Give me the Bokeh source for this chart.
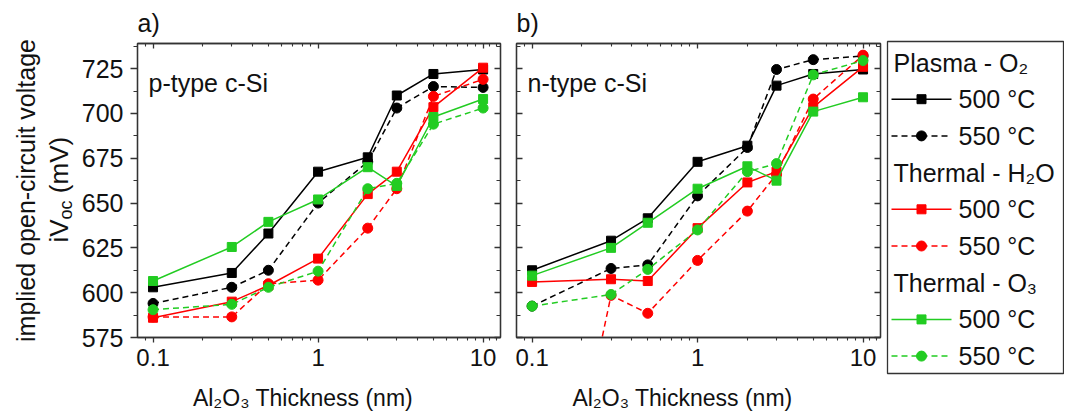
import numpy as np
from bokeh.plotting import figure
from bokeh.layouts import row, column
from bokeh.models import (Range1d, LogAxis, LinearAxis, FixedTicker,
                          CustomJSTickFormatter, Label)
from bokeh.embed import file_html
from bokeh.resources import INLINE
from bokeh.core.properties import value

# ---------------- data ----------------
thickness = [0.1, 0.3, 0.5, 1, 2, 3, 5, 10]

# panel a) p-type c-Si
p_plasma_500 = [603, 611, 633, 667.5, 675.5, 710, 722, 724.5]
p_plasma_550 = [594, 603, 612.5, 650, 673, 703, 715, 714.5]
p_h2o_500 = [586, 595, 604, 619, 655, 667.5, 703.5, 725.5]
p_h2o_550 = [586.5, 586.5, 605, 607, 636, 658, 709.5, 719]
p_o3_500 = [606.5, 625.5, 639.5, 652, 670, 659.5, 698, 708]
p_o3_550 = [590.5, 593.5, 603, 612, 658, 661, 694, 703]

# panel b) n-type c-Si
n_plasma_500 = [612.5, 629, 641.5, 673, 682, 715.5, 722, 724.5]
n_plasma_550 = [592.5, 613.5, 615.5, 654, 681, 724.5, 730, 732]
n_h2o_500 = [606, 607.5, 606.5, 636, 661.5, 667.5, 703.5, 726]
n_h2o_550 = [390, 598.5, 588.5, 618, 645.5, 666, 708, 732.5]
n_o3_500 = [609.5, 625, 639, 658, 670.5, 662.5, 701, 709]
n_o3_550 = [592.5, 599, 613, 635, 667.5, 672, 721.5, 729.5]

y_ticks = [575, 600, 625, 650, 675, 700, 725]
x_ticks = [0.1, 1, 10]
x_tick_labels = ["0.1", "1", "10"]

group_names = ["Plasma - O\u2082", "Thermal - H\u2082O", "Thermal - O\u2083"]
temp_names = ["500 \u00b0C", "550 \u00b0C"]
group_colors = ["#000000", "#ff0000", "#22cc22"]

panel_a_series = [(p_plasma_500, p_plasma_550), (p_h2o_500, p_h2o_550), (p_o3_500, p_o3_550)]
panel_b_series = [(n_plasma_500, n_plasma_550), (n_h2o_500, n_h2o_550), (n_o3_500, n_o3_550)]

x_title = "Al\u2082O\u2083 Thickness (nm)"
y_title_1 = "implied open-circuit voltage"
y_title_2 = ["iV", "oc", "(mV)"]

# ---------------- style ----------------
FONT = "Liberation Sans"
AX = "#333333"
TXT = "#111111"
x_minor = [0.09] + [m * 0.1 for m in range(2, 10)] + [float(m) for m in range(2, 10)] + [11.0, 12.0]
y_minor = [t + 12.5 for t in y_ticks]

H = 416
FRAME_H = 294
TOP = 43
BOTTOM = H - TOP - FRAME_H
STRIP_W = 78


def x_formatter():
    return CustomJSTickFormatter(
        args=dict(xt=x_ticks, xl=x_tick_labels),
        code="const i = xt.findIndex(t => Math.abs(t - tick) < 1e-9); return i >= 0 ? xl[i] : '';")


def blank_formatter():
    return CustomJSTickFormatter(code="return ' ';")


def style_axis(ax, tick_in, tick_out, minor_in, minor_out, labels=True, size="24px"):
    ax.axis_line_color = AX
    ax.axis_line_width = 1.3
    ax.major_tick_line_color = AX
    ax.minor_tick_line_color = AX
    ax.major_tick_line_width = 1.3
    ax.minor_tick_line_width = 1.1
    ax.major_tick_in = tick_in
    ax.major_tick_out = tick_out
    ax.minor_tick_in = minor_in
    ax.minor_tick_out = minor_out
    if labels:
        ax.major_label_text_font = FONT
        ax.major_label_text_font_size = size
        ax.major_label_text_color = TXT
    else:
        ax.formatter = blank_formatter()
        ax.major_label_text_font_size = "1px"
        ax.major_label_standoff = 0


def make_panel(series, frame_w, border_left, border_right, left_labels, panel_tag, inner_text):
    p = figure(x_axis_type="log", x_range=Range1d(0.0805, 12.75), y_range=Range1d(575, 739),
               frame_width=frame_w, frame_height=FRAME_H,
               min_border_left=border_left, min_border_right=border_right,
               min_border_top=TOP, min_border_bottom=BOTTOM,
               output_backend="svg", toolbar_location=None)
    p.grid.visible = False
    p.outline_line_color = AX
    p.outline_line_width = 1.3

    p.title.text = panel_tag
    p.title.align = "left"
    p.title.text_font = FONT
    p.title.text_font_size = "25px"
    p.title.text_font_style = "normal"
    p.title.text_color = TXT
    p.title.standoff = 6

    xa = p.xaxis[0]
    xa.ticker = FixedTicker(ticks=x_ticks, minor_ticks=x_minor)
    xa.formatter = x_formatter()
    style_axis(xa, 0, 5, 0, 3, True, "24px")
    xa.major_label_standoff = 6
    xa.axis_label = x_title + "\u00a0" * 5
    xa.axis_label_text_font = FONT
    xa.axis_label_text_font_size = "23px"
    xa.axis_label_text_font_style = "normal"
    xa.axis_label_text_color = TXT
    xa.axis_label_standoff = 16

    ya = p.yaxis[0]
    ya.ticker = FixedTicker(ticks=y_ticks, minor_ticks=y_minor)
    if left_labels:
        style_axis(ya, 0, 7, 0, 4, True, "25px")
        ya.major_label_standoff = 7
    else:
        style_axis(ya, 6, 0, 4, 0, False)

    top_ax = LogAxis(ticker=FixedTicker(ticks=x_ticks, minor_ticks=x_minor))
    style_axis(top_ax, 5, 0, 3, 0, False)
    p.add_layout(top_ax, "above")
    right_ax = LinearAxis(ticker=FixedTicker(ticks=y_ticks, minor_ticks=y_minor))
    style_axis(right_ax, 6, 0, 4, 0, False)
    p.add_layout(right_ax, "right")

    for (s500, s550), col in zip(series, group_colors):
        p.line(thickness, s500, line_color=col, line_width=1.5)
        p.scatter(thickness, s500, marker="square", size=9, fill_color=col, line_color=col)
        p.line(thickness, s550, line_color=col, line_width=1.5, line_dash="6 4")
        p.scatter(thickness, s550, marker="circle", size=10, fill_color=col, line_color=col)

    p.add_layout(Label(x=11, y=FRAME_H - 39, x_units="screen", y_units="screen", text=inner_text,
                       text_font=FONT, text_font_size="25px", text_color=TXT,
                       text_baseline="alphabetic"))
    return p


# ---------------- y-title strip (left) ----------------
ps = figure(width=STRIP_W, height=H, x_range=Range1d(0, STRIP_W), y_range=Range1d(0, H),
            min_border=0, output_backend="svg", toolbar_location=None,
            x_axis_location=None, y_axis_location=None)
ps.grid.visible = False
ps.outline_line_color = None
ang = np.pi / 2
frame_mid = H - (TOP + FRAME_H / 2)
ps.text(x=[25], y=[frame_mid], text=[y_title_1], angle=ang, text_font=value(FONT),
        text_font_size="25px", text_color=TXT, text_align="center", text_baseline="alphabetic")
w_iv = 0.889 * 26
w_oc = 1.056 * 18
w_sp = 0.278 * 26
y_start = frame_mid - 52
ps.text(x=[58], y=[y_start], text=[y_title_2[0]], angle=ang, text_font=value(FONT),
        text_font_size="26px", text_color=TXT, text_align="left", text_baseline="alphabetic")
ps.text(x=[65], y=[y_start + w_iv], text=[y_title_2[1]], angle=ang, text_font=value(FONT),
        text_font_size="18px", text_color=TXT, text_align="left", text_baseline="alphabetic")
ps.text(x=[58], y=[y_start + w_iv + w_oc + w_sp], text=[y_title_2[2]], angle=ang,
        text_font=value(FONT), text_font_size="26px", text_color=TXT, text_align="left",
        text_baseline="alphabetic")

pa = make_panel(panel_a_series, 363, 137 - STRIP_W, 10, True, "a)", "p-type c-Si")
pb = make_panel(panel_b_series, 364, 6, 3, False, "b)", "n-type c-Si")

# ---------------- legend panel ----------------
LW = 181
pl = figure(width=LW, height=H, x_range=Range1d(0, LW), y_range=Range1d(H, 0),
            min_border=0, output_backend="svg", toolbar_location=None,
            x_axis_location=None, y_axis_location=None)
pl.grid.visible = False
pl.outline_line_color = None

pl.quad(left=[4], right=[180], top=[41], bottom=[373], fill_color=None,
        line_color=AX, line_width=1.3)

row_y0, row_step = 62, 36.7
line_x0, line_x1, text_x, head_x = 8, 68, 75, 10
markers = ["square", "circle"]
dashes = ["solid", "6 4"]
msizes = [9, 10]
r = 0
for g, col in zip(group_names, group_colors):
    yh = row_y0 + r * row_step
    pl.text(x=[head_x], y=[yh], text=[g], text_font=value(FONT), text_font_size="25px",
            text_color=TXT, text_baseline="middle")
    r += 1
    for k, t in enumerate(temp_names):
        yy = row_y0 + r * row_step
        pl.line([line_x0, line_x1], [yy, yy], line_color=col, line_width=1.5, line_dash=dashes[k])
        pl.scatter([(line_x0 + line_x1) / 2], [yy], marker=markers[k], size=msizes[k],
                   fill_color=col, line_color=col)
        pl.text(x=[text_x], y=[yy], text=[t], text_font=value(FONT), text_font_size="25px",
                text_color=TXT, text_baseline="middle")
        r += 1

layout = row(column(ps), pa, pb, column(pl))
open("out.html", "w").write(file_html(layout, INLINE))
